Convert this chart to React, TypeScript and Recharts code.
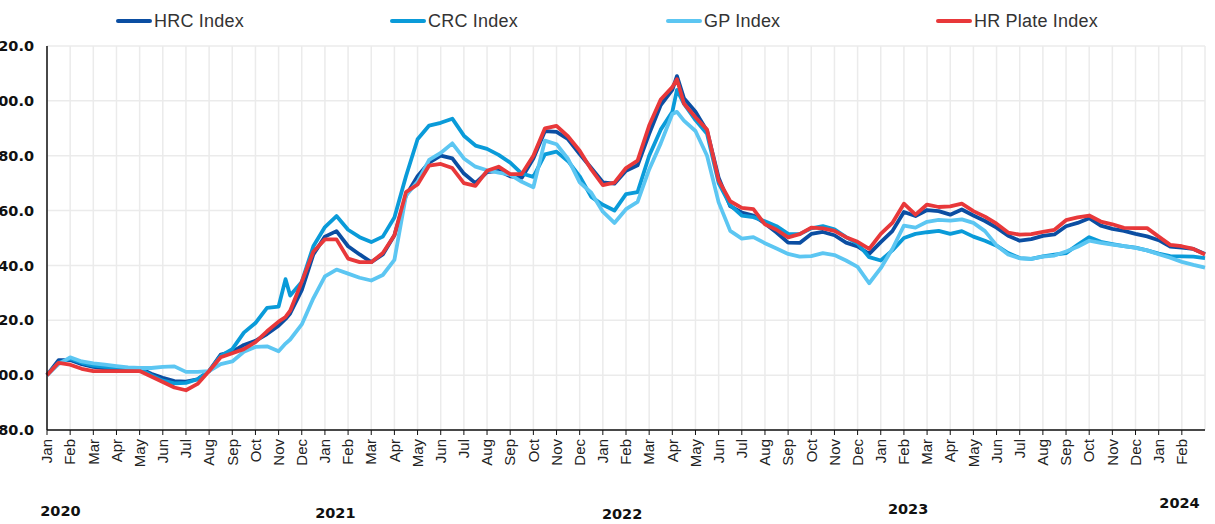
import React from 'react';
import { LineChart, Line, XAxis, YAxis, CartesianGrid } from 'recharts';

// x position of each reading, in months since Jan 2020
const monthPos = [
  0, 0.5, 1, 1.5, 2, 2.5, 3, 3.5, 4, 4.5,
  5, 5.5, 6, 6.5, 7, 7.5, 8, 8.5, 9, 9.5,
  10, 10.3, 10.5, 11, 11.5, 12, 12.5, 13, 13.5, 14,
  14.5, 15, 15.5, 16, 16.5, 17, 17.5, 18, 18.5, 19,
  19.5, 20, 20.5, 21, 21.5, 22, 22.5, 23, 23.5, 24,
  24.5, 25, 25.5, 26, 26.5, 27, 27.2, 27.5, 28, 28.5,
  29, 29.5, 30, 30.5, 31, 31.5, 32, 32.5, 33, 33.5,
  34, 34.5, 35, 35.5, 36, 36.5, 37, 37.5, 38, 38.5,
  39, 39.5, 40, 40.5, 41, 41.5, 42, 42.5, 43, 43.5,
  44, 44.5, 45, 45.5, 46, 46.5, 47, 47.5, 48, 48.5,
  49, 49.5, 50,
];

const hrcIndex = [
  100, 105.5, 105.5, 104, 103, 102.5, 102.3, 102, 102.5, 100.5,
  99, 97.8, 97.6, 98.5, 101.5, 107.5, 108.5, 111, 112.5, 115,
  118, 120.5, 122.5, 131, 144, 150.5, 152.5, 147, 144, 141.2,
  144, 151, 165.5, 172.5, 177.5, 180, 179, 173.5, 170, 174,
  174.5, 172.5, 172, 179, 189, 188.7, 186, 180.6, 175.5, 170.3,
  169.8, 174.5, 176.5, 188, 198.5, 204, 209, 201, 196, 189,
  172, 161.6, 159.3, 158.2, 155.3, 152, 148.3, 148.2, 151.5, 152.2,
  151, 148.3, 146.9, 144.2, 148.5, 152.5, 159.5, 158, 160.2, 159.8,
  158.5, 160.4, 158.2, 156.2, 153.8, 150.8, 149, 149.6, 150.8, 151.3,
  154.3, 155.5, 157.2, 154.5, 153.3, 152.6, 151.5, 150.6, 149.2, 146.9,
  146.5, 146, 144.2,
];

const crcIndex = [
  100, 104.5, 106, 104.5, 103.5, 103, 102.8, 102.5, 102.3, 100,
  98, 97, 97.2, 98.5, 101.5, 107, 109.5, 115.5, 119, 124.5,
  125, 135, 129, 134, 147, 154, 158, 153, 150.3, 148.5,
  150.5, 157.5, 172.5, 186, 191, 192, 193.5, 187.3, 183.7, 182.5,
  180.3, 177.5, 173.5, 172.3, 180.5, 181.5, 178, 172.5, 165, 162.1,
  160, 166, 166.7, 180, 189.5, 196, 204, 199, 193, 188,
  170, 162, 158.2, 157.6, 156.1, 154.3, 151.5, 151.4, 153.5, 154.3,
  153.2, 150.3, 148, 143, 141.8, 145.5, 150, 151.5, 152.1, 152.6,
  151.5, 152.5, 150.5, 149, 147.2, 144.5, 142.7, 142.4, 143.3, 143.9,
  144.5, 147.5, 150.3, 148.6, 147.8, 147, 146.5, 145.5, 144.3, 143.4,
  143.3, 143.2, 142.7,
];

const gpIndex = [
  100, 104, 106.5, 105, 104.3, 103.8, 103.3, 102.8, 102.6, 102.6,
  103, 103.2, 101.2, 101.2, 101.5, 104, 105, 108.5, 110.3, 110.5,
  108.7, 111.5, 113, 118.5, 128, 136, 138.5, 137, 135.5, 134.5,
  136.5, 142, 165.5, 170.5, 178.5, 181, 184.5, 179, 176, 174.7,
  173.8, 173.1, 170.5, 168.5, 185.5, 184.2, 178.8, 170.3, 166.5, 159.6,
  155.5, 160.5, 163.2, 175, 184.5, 195.2, 196, 192.8, 189, 180,
  163, 152.6, 149.8, 150.3, 148.1, 146.2, 144.2, 143.2, 143.4, 144.5,
  143.8, 141.8, 139.5, 133.5, 139, 146, 154.5, 153.8, 155.9, 156.6,
  156.3, 156.8, 155.5, 152.5, 147.3, 144, 142.6, 142.4, 143.2, 143.6,
  145.1, 146.8, 149, 148.2, 147.6, 147, 146.4, 145.5, 144.1, 142.8,
  141.3, 140.2, 139.2,
];

const hrPlateIndex = [
  100, 104.5, 103.8, 102.3, 101.5, 101.5, 101.5, 101.5, 101.5, 99.5,
  97.5, 95.5, 94.5, 96.8, 101.5, 106.5, 108, 109.5, 112, 116,
  119.5, 121.2, 123.5, 134, 145, 149.5, 149.5, 142.5, 141.2, 141.2,
  144.5, 151, 166.7, 169.5, 176.4, 177, 175.5, 170, 169, 174.5,
  176, 173.3, 173.3, 180, 190, 190.9, 187, 181.8, 175, 169.3,
  170.2, 175.5, 178.2, 191, 200.5, 205, 207.9, 199, 194, 189.5,
  171, 163.4, 161, 160.5, 155, 153, 150.2, 151.4, 153.8, 153.5,
  152.6, 150.3, 148.6, 146, 151.5, 155.5, 162.5, 158.5, 162.2, 161.3,
  161.5, 162.5, 159.8, 157.8, 155.2, 152, 151.2, 151.4, 152.2, 153,
  156.5, 157.5, 158.2, 156, 155, 153.7, 153.6, 153.6, 150.5, 147.5,
  147, 146, 144,
];

const monthLabels = [
  'Jan', 'Feb', 'Mar', 'Apr', 'May', 'Jun', 'Jul', 'Aug', 'Sep', 'Oct', 'Nov', 'Dec',
  'Jan', 'Feb', 'Mar', 'Apr', 'May', 'Jun', 'Jul', 'Aug', 'Sep', 'Oct', 'Nov', 'Dec',
  'Jan', 'Feb', 'Mar', 'Apr', 'May', 'Jun', 'Jul', 'Aug', 'Sep', 'Oct', 'Nov', 'Dec',
  'Jan', 'Feb', 'Mar', 'Apr', 'May', 'Jun', 'Jul', 'Aug', 'Sep', 'Oct', 'Nov', 'Dec',
  'Jan', 'Feb',
];
const monthTicks = monthLabels.map((_, i) => i);

const yearLabels = ['2020', '2021', '2022', '2023', '2024'];
const yearTicks = [0.58, 12.45, 24.83, 37.18, 48.9];
const yearNudge = [26, 28, 29, 24, 18];

const yTicks = [80, 100, 120, 140, 160, 180, 200, 220];

const series = [
  { key: 'hrc', name: 'HRC Index', color: '#0b4ea2' },
  { key: 'crc', name: 'CRC Index', color: '#0a9bd9' },
  { key: 'gp', name: 'GP Index', color: '#5cc6f2' },
  { key: 'plate', name: 'HR Plate Index', color: '#e8383a' },
];
const legendLeft = [116, 390, 666, 936];

const data = monthPos.map((m, i) => ({
  m,
  hrc: hrcIndex[i],
  crc: crcIndex[i],
  gp: gpIndex[i],
  plate: hrPlateIndex[i],
}));

const sans = "'Liberation Sans', Arial, sans-serif";
const boldFont = "'DejaVu Sans', sans-serif";

const MonthTick = ({ x, y, payload }: any) => (
  <text
    x={x}
    y={y}
    transform={`rotate(-90, ${x}, ${y})`}
    textAnchor="end"
    dy="0.35em"
    fontSize={15}
    fontFamily={sans}
    fill="#222"
  >
    {monthLabels[payload.value]}
  </text>
);

const YearTick = ({ x, y, payload }: any) => {
  const i = yearTicks.indexOf(payload.value);
  return (
    <text x={x} y={y + yearNudge[i]} textAnchor="middle" fontSize={14.5} fontWeight="bold" fontFamily={boldFont} fill="#111">
      {yearLabels[i]}
    </text>
  );
};

export default function App() {
  return (
    <div style={{ position: 'absolute', left: 0, top: 0, width: 1215, height: 524, background: '#fff', overflow: 'hidden' }}>
      {series.map((s, i) => (
        <div
          key={s.key}
          style={{ position: 'absolute', left: legendLeft[i], top: 10, display: 'flex', alignItems: 'center', height: 22 }}
        >
          <span style={{ display: 'inline-block', width: 36, height: 4, borderRadius: 2, background: s.color, marginRight: 2 }} />
          <span style={{ fontFamily: sans, fontSize: 18, color: '#333', letterSpacing: 0.2 }}>{s.name}</span>
        </div>
      ))}
      <LineChart width={1215} height={524} data={data} margin={{ top: 46, right: 10, bottom: 0, left: 0 }}>
        <CartesianGrid stroke="#ebebeb" strokeWidth={1.5} />
        <XAxis
          dataKey="m"
          type="number"
          domain={[0, 50]}
          ticks={monthTicks}
          interval={0}
          height={60}
          tick={<MonthTick />}
          tickSize={5}
          tickMargin={4}
          axisLine={{ stroke: '#111', strokeWidth: 1.5 }}
          tickLine={{ stroke: '#111' }}
        />
        <XAxis
          xAxisId="year"
          dataKey="m"
          type="number"
          domain={[0, 50]}
          ticks={yearTicks}
          interval={0}
          height={34}
          tick={<YearTick />}
          tickSize={0}
          tickMargin={0}
          axisLine={false}
          tickLine={false}
        />
        <YAxis
          type="number"
          domain={[80, 220]}
          ticks={yTicks}
          interval={0}
          width={47}
          tickSize={6}
          tickMargin={7}
          tickLine={false}
          axisLine={{ stroke: '#111', strokeWidth: 1.5 }}
          tickFormatter={(v: number) => v.toFixed(1)}
          tick={{ fontSize: 14.5, fontWeight: 'bold', fontFamily: boldFont, fill: '#111' }}
        />
        {series.map((s) => (
          <Line
            key={s.key}
            dataKey={s.key}
            name={s.name}
            type="linear"
            stroke={s.color}
            strokeWidth={3.8}
            strokeLinejoin="round"
            dot={false}
            activeDot={false}
            isAnimationActive={false}
          />
        ))}
      </LineChart>
    </div>
  );
}
